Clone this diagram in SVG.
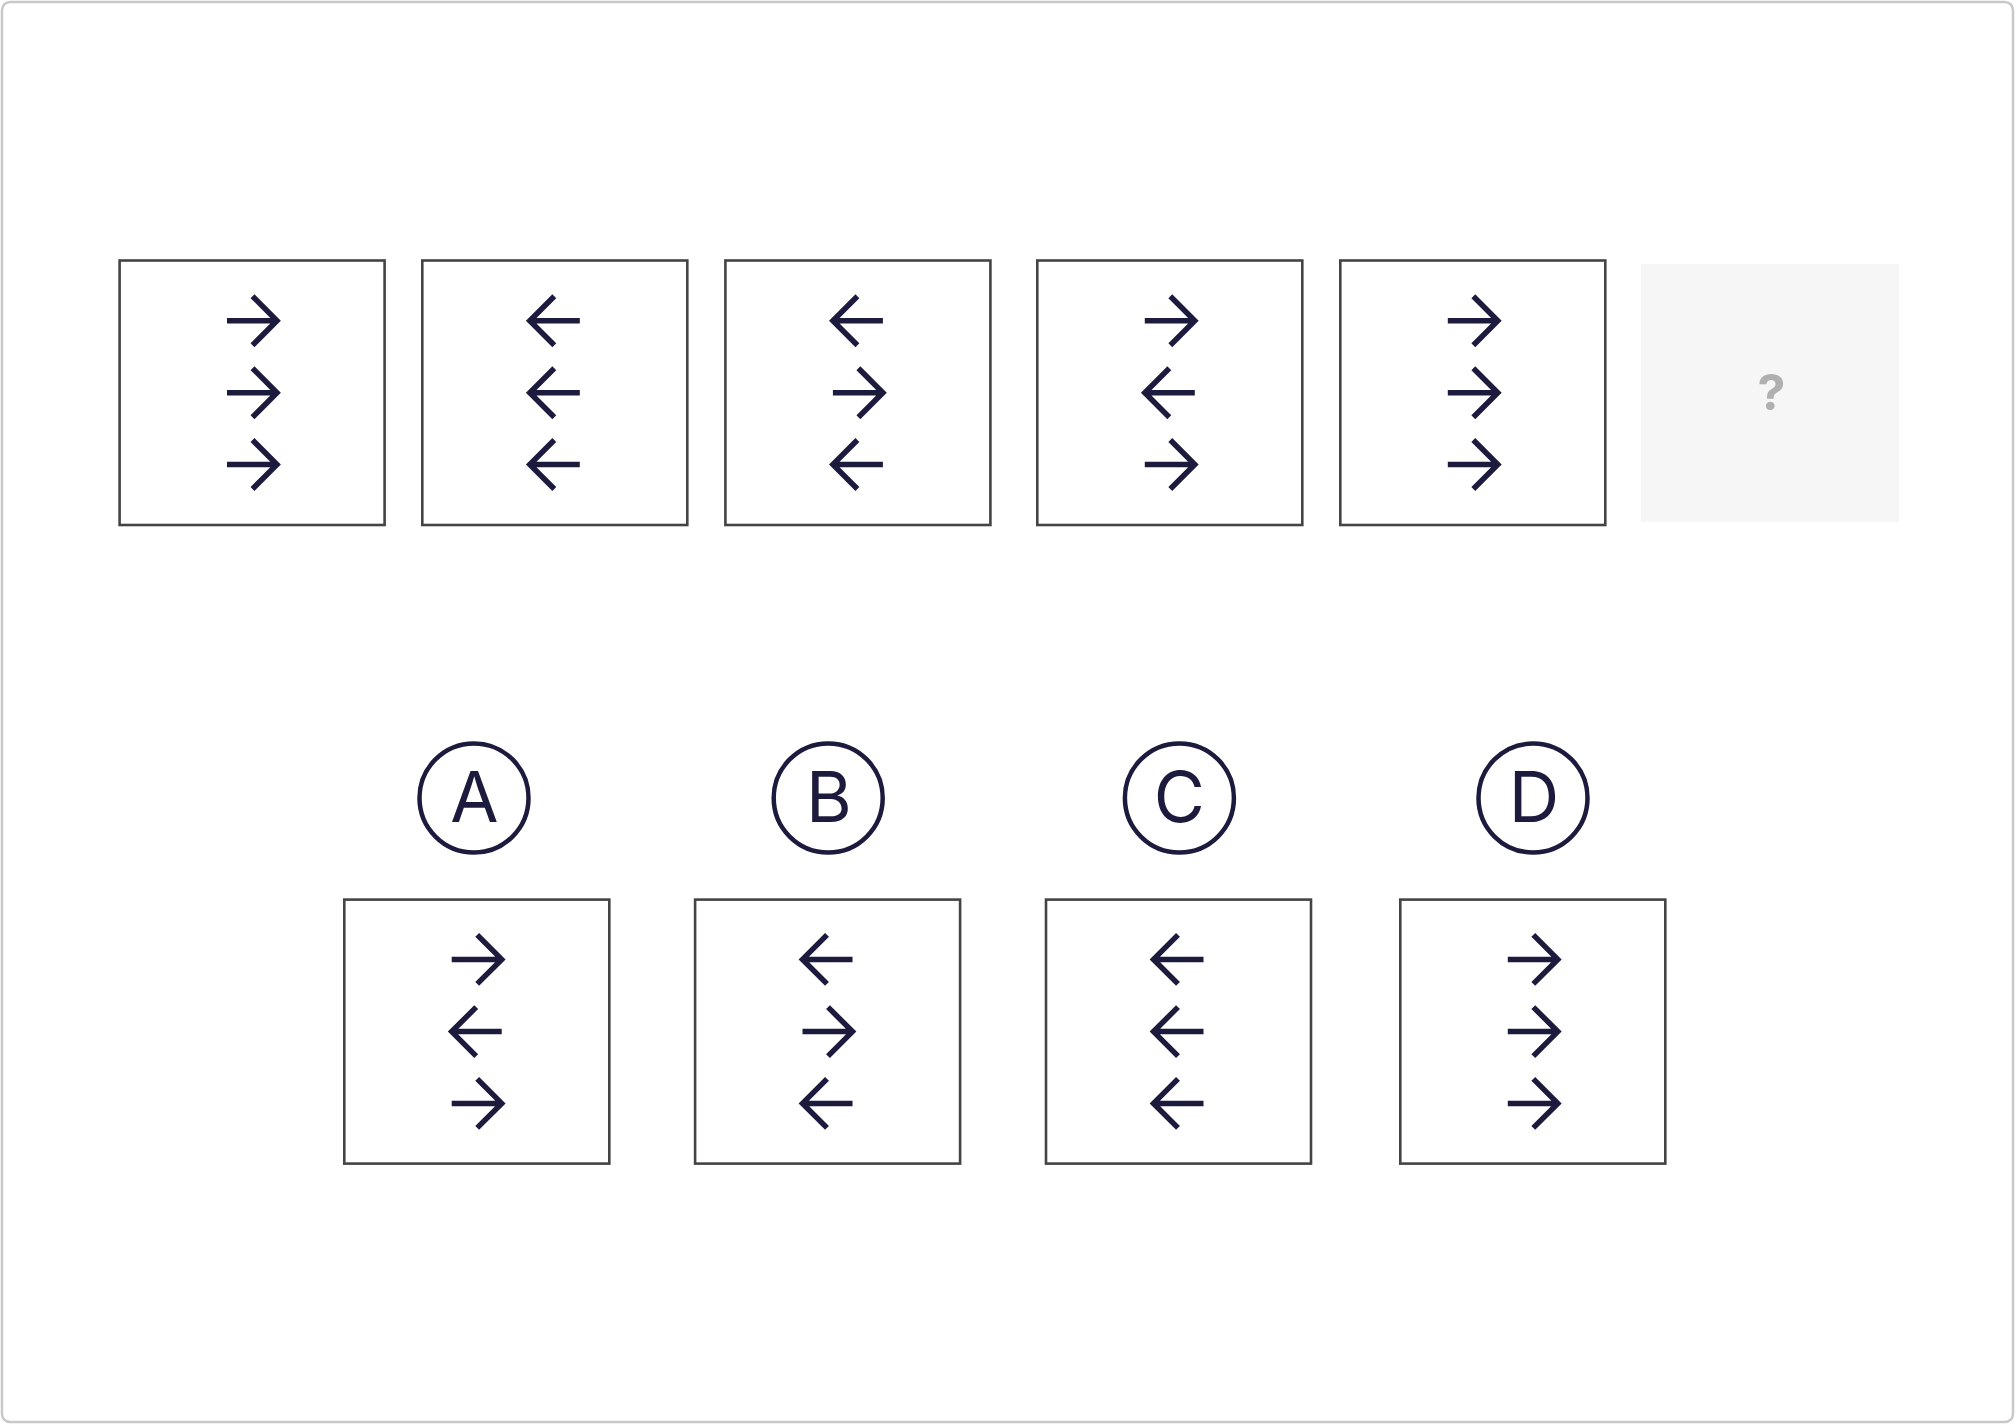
<svg xmlns="http://www.w3.org/2000/svg" xmlns:xlink="http://www.w3.org/1999/xlink" width="2016" height="1425" viewBox="0 0 2016 1425">
  <style>
    .frame { fill: #ffffff; stroke: #c8c8c8; stroke-width: 2.5; }
    .box { fill: #ffffff; stroke: #444444; stroke-width: 2.6; }
    .qbox { fill: #f6f6f6; stroke: none; }
    .arrow { fill: none; stroke: #1c1a3d; stroke-width: 5.5; stroke-linejoin: miter; stroke-linecap: butt; }
    .badge { fill: #ffffff; stroke: #1c1a3d; stroke-width: 4.5; }
    .letter { font-family: Inter, "Liberation Sans", sans-serif; font-size: 70px; fill: #1c1a3d; text-anchor: middle; }
    .qmark { font-family: Inter, "Liberation Sans", sans-serif; font-size: 50px; font-weight: 700; fill: #b0b0b0; text-anchor: middle; }
  </style>
  <defs>
    <path id="ar" class="arrow" d="M-25,0 H25 M0.5,-24.5 L25,0 L0.5,24.5"/>
    <path id="al" class="arrow" d="M25,0 H-25 M-0.5,-24.5 L-25,0 L-0.5,24.5"/>
  </defs>

  <rect class="frame" x="2" y="2" width="2011" height="1420" rx="8" ry="8"/>

  <g id="connectors"></g>

  <!-- Top sequence -->
  <g id="seq1">
    <rect class="box" x="119.6" y="260.5" width="265" height="264.5"/>
    <use xlink:href="#ar" x="252" y="320.7"/>
    <use xlink:href="#ar" x="252" y="392.7"/>
    <use xlink:href="#ar" x="252" y="464.5"/>
  </g>
  <g id="seq2">
    <rect class="box" x="422.3" y="260.5" width="265" height="264.5"/>
    <use xlink:href="#al" x="554.8" y="320.7"/>
    <use xlink:href="#al" x="554.8" y="392.7"/>
    <use xlink:href="#al" x="554.8" y="464.5"/>
  </g>
  <g id="seq3">
    <rect class="box" x="725.4" y="260.5" width="265" height="264.5"/>
    <use xlink:href="#al" x="857.9" y="320.7"/>
    <use xlink:href="#ar" x="857.9" y="392.7"/>
    <use xlink:href="#al" x="857.9" y="464.5"/>
  </g>
  <g id="seq4">
    <rect class="box" x="1037.3" y="260.5" width="265" height="264.5"/>
    <use xlink:href="#ar" x="1169.8" y="320.7"/>
    <use xlink:href="#al" x="1169.8" y="392.7"/>
    <use xlink:href="#ar" x="1169.8" y="464.5"/>
  </g>
  <g id="seq5">
    <rect class="box" x="1340.3" y="260.5" width="265" height="264.5"/>
    <use xlink:href="#ar" x="1472.8" y="320.7"/>
    <use xlink:href="#ar" x="1472.8" y="392.7"/>
    <use xlink:href="#ar" x="1472.8" y="464.5"/>
  </g>
  <g id="seq6-unknown">
    <rect class="qbox" x="1641" y="264" width="258" height="258"/>
    <text class="qmark" x="1771.5" y="410">?</text>
  </g>

  <!-- Options -->
  <g id="optionA">
    <circle class="badge" cx="474" cy="798" r="54.5"/>
    <text class="letter" x="474.5" y="822">A</text>
    <rect class="box" x="344.3" y="899.6" width="265" height="264"/>
    <use xlink:href="#ar" x="476.7" y="959.4"/>
    <use xlink:href="#al" x="476.7" y="1031.6"/>
    <use xlink:href="#ar" x="476.7" y="1103.4"/>
  </g>
  <g id="optionB">
    <circle class="badge" cx="828.2" cy="798" r="54.5"/>
    <text class="letter" x="829" y="822">B</text>
    <rect class="box" x="695.1" y="899.6" width="265" height="264"/>
    <use xlink:href="#al" x="827.5" y="959.4"/>
    <use xlink:href="#ar" x="827.5" y="1031.6"/>
    <use xlink:href="#al" x="827.5" y="1103.4"/>
  </g>
  <g id="optionC">
    <circle class="badge" cx="1179.4" cy="798" r="54.5"/>
    <text class="letter" x="1179.4" y="822">C</text>
    <rect class="box" x="1046" y="899.6" width="265" height="264"/>
    <use xlink:href="#al" x="1178.5" y="959.4"/>
    <use xlink:href="#al" x="1178.5" y="1031.6"/>
    <use xlink:href="#al" x="1178.5" y="1103.4"/>
  </g>
  <g id="optionD">
    <circle class="badge" cx="1533" cy="798" r="54.5"/>
    <text class="letter" x="1534" y="822">D</text>
    <rect class="box" x="1400.3" y="899.6" width="265" height="264"/>
    <use xlink:href="#ar" x="1532.8" y="959.4"/>
    <use xlink:href="#ar" x="1532.8" y="1031.6"/>
    <use xlink:href="#ar" x="1532.8" y="1103.4"/>
  </g>
</svg>
